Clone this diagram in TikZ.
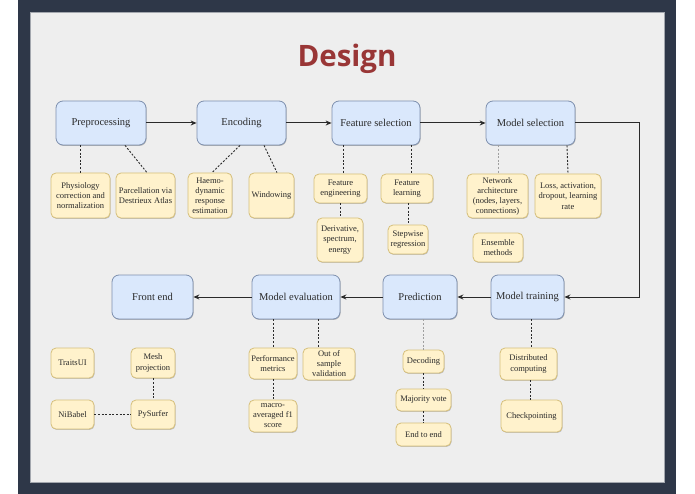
\documentclass[tikz,border=0pt]{standalone}
\usepackage{fontspec}
\setmainfont{Liberation Serif}
\newfontfamily\titlefont{Open Sans}
\usetikzlibrary{arrows.meta,shadows}
\definecolor{frame}{HTML}{2E3748}
\definecolor{panel}{HTML}{EEEEEE}
\definecolor{panelline}{HTML}{A3A7AE}
\definecolor{mainfill}{HTML}{DAE8FC}
\definecolor{maindraw}{HTML}{7E90AE}
\definecolor{subfill}{HTML}{FFF2CC}
\definecolor{subdraw}{HTML}{D6BF7A}
\definecolor{titlered}{HTML}{993636}
\definecolor{ink}{HTML}{2A2A2A}
\begin{document}
\begin{tikzpicture}[x=1pt,y=-1pt,
  mainbox/.style={draw=maindraw, fill=mainfill, rounded corners=7pt, line width=0.8pt,
    inner sep=0pt, minimum height=44pt, text=ink, font=\fontsize{10.5}{12}\selectfont,
    drop shadow={shadow xshift=0.6pt, shadow yshift=-0.9pt, opacity=0.25, fill=black}},
  subbox/.style={draw=subdraw, fill=subfill, rounded corners=5pt, line width=0.8pt,
    inner sep=0pt, align=center, text=ink, font=\fontsize{8.5}{10.3}\selectfont,
    drop shadow={shadow xshift=0.6pt, shadow yshift=-0.9pt, opacity=0.2, fill=black}},
  arr/.style={draw=ink, line width=1pt, -{Stealth[length=6pt,width=5pt]}},
  dep/.style={draw=ink, line width=0.9pt, dash pattern=on 2pt off 1.6pt},
  deplight/.style={dep, draw=ink!45}]
\useasboundingbox (0,0) rectangle (695,494);
\fill[frame] (18,0) rectangle (676,494);
\filldraw[fill=panel, draw=panelline, line width=0.8pt] (30,12) rectangle (664,482);

\node[font=\titlefont\bfseries\fontsize{29.5}{34}\selectfont, text=titlered, anchor=base] (title) at (347,67) {Design};

% main nodes
\node[mainbox, minimum width=90pt] (pre) at (101,123) {Preprocessing};
\node[mainbox, minimum width=89pt] (enc) at (241.5,123) {Encoding};
\node[mainbox, minimum width=88pt] (fs) at (376,123) {Feature selection};
\node[mainbox, minimum width=89pt] (ms) at (530.5,123) {Model selection};
\node[mainbox, minimum width=81pt] (fe) at (152.5,297) {Front end};
\node[mainbox, minimum width=88pt] (me) at (296,297) {Model evaluation};
\node[mainbox, minimum width=74pt] (pr) at (420,297) {Prediction};
\node[mainbox, minimum width=73pt] (mt) at (527.5,297) {Model training};

% sub nodes
\node[subbox, minimum width=59pt, minimum height=45pt] (phy) at (80.5,195.5) {Physiology\\correction and\\normalization};
\node[subbox, minimum width=59pt, minimum height=45pt] (par) at (145.5,195.5) {Parcellation via\\Destrieux Atlas};
\node[subbox, minimum width=44pt, minimum height=45pt, font=\fontsize{8.5}{10}\selectfont] (hae) at (210,195.5) {Haemo-\\dynamic\\response\\estimation};
\node[subbox, minimum width=45pt, minimum height=45pt] (win) at (271.5,195.5) {Windowing};
\node[subbox, minimum width=53pt, minimum height=29pt] (feng) at (340.5,188.5) {Feature\\engineering};
\node[subbox, minimum width=52pt, minimum height=29pt] (flearn) at (407,188.5) {Feature\\learning};
\node[subbox, minimum width=46pt, minimum height=44pt] (deriv) at (340,240) {Derivative,\\spectrum,\\energy};
\node[subbox, minimum width=40pt, minimum height=29pt] (stepw) at (408,239.5) {Stepwise\\regression};
\node[subbox, minimum width=61pt, minimum height=44pt, font=\fontsize{8.5}{10}\selectfont] (net) at (497.5,196) {Network\\architecture\\(nodes, layers,\\connections)};
\node[subbox, minimum width=66pt, minimum height=44pt] (loss) at (568,196) {Loss, activation,\\dropout, learning\\rate};
\node[subbox, minimum width=50pt, minimum height=29pt] (ens) at (498,247.5) {Ensemble\\methods};
\node[subbox, minimum width=43pt, minimum height=30pt] (traits) at (72.5,363) {TraitsUI};
\node[subbox, minimum width=44pt, minimum height=30pt] (mesh) at (153,363) {Mesh\\projection};
\node[subbox, minimum width=43pt, minimum height=29pt] (nib) at (72.5,414.5) {NiBabel};
\node[subbox, minimum width=44pt, minimum height=29pt] (pys) at (153,414.5) {PySurfer};
\node[subbox, minimum width=48pt, minimum height=31pt] (perf) at (273,363.5) {Performance\\metrics};
\node[subbox, minimum width=52pt, minimum height=32pt, font=\fontsize{8.5}{10}\selectfont] (oos) at (329,364) {Out of\\sample\\validation};
\node[subbox, minimum width=48pt, minimum height=32pt, font=\fontsize{8.5}{10}\selectfont] (macro) at (273,416) {macro-\\averaged f1\\score};
\node[subbox, minimum width=41pt, minimum height=23pt] (dec) at (423.5,361.5) {Decoding};
\node[subbox, minimum width=55pt, minimum height=22pt] (maj) at (423.5,400) {Majority vote};
\node[subbox, minimum width=55pt, minimum height=23pt] (e2e) at (423.5,434.5) {End to end};
\node[subbox, minimum width=57pt, minimum height=32pt] (dist) at (528.5,364) {Distributed\\computing};
\node[subbox, minimum width=61pt, minimum height=32pt] (chk) at (531.5,416) {Checkpointing};

% main flow
\draw[arr] (pre.east) -- (enc.west);
\draw[arr] (enc.east) -- (fs.west);
\draw[arr] (fs.east) -- (ms.west);
\coordinate (turn) at (639,123);
\draw[arr] (ms.east) -- (turn) |- (mt.east);
\draw[arr] (mt.west) -- (pr.east);
\draw[arr] (pr.west) -- (me.east);
\draw[arr] (me.west) -- (fe.east);

% dashed links
\draw[dep] (pre.south -| 80,0) -- (phy.north -| 80,0);
\draw[dep] (pre.south -| 125,0) -- (par.north -| 147,0);
\draw[dep] (enc.south -| 240,0) -- (hae.north -| 212,0);
\draw[dep] (enc.south -| 264,0) -- (win.north -| 277,0);
\draw[dep] (fs.south -| 343,0) -- (feng.north -| 343,0);
\draw[dep] (feng.south -| 340,0) -- (deriv.north -| 340,0);
\draw[dep] (fs.south -| 411,0) -- (flearn.north -| 411,0);
\draw[dep] (flearn.south -| 408,0) -- (stepw.north -| 408,0);
\draw[deplight] (ms.south -| 498,0) -- (net.north -| 498,0);
\draw[dep] (ms.south -| 567,0) -- (loss.north -| 568,0);
\draw[dep] (me.south -| 273,0) -- (perf.north -| 273,0);
\draw[dep] (me.south -| 318,0) -- (oos.north -| 318,0);
\draw[dep] (perf.south) -- (macro.north);
\draw[dep] (mesh.south) -- (pys.north);
\draw[dep] (nib.east) -- (pys.west);
\draw[deplight] (pr.south -| 423,0) -- (dec.north -| 423,0);
\draw[dep] (dec.south) -- (maj.north);
\draw[dep] (maj.south) -- (e2e.north);
\draw[dep] (mt.south -| 531,0) -- (dist.north -| 531,0);
\draw[dep] (dist.south -| 530,0) -- (chk.north -| 530,0);
\end{tikzpicture}
\end{document}
